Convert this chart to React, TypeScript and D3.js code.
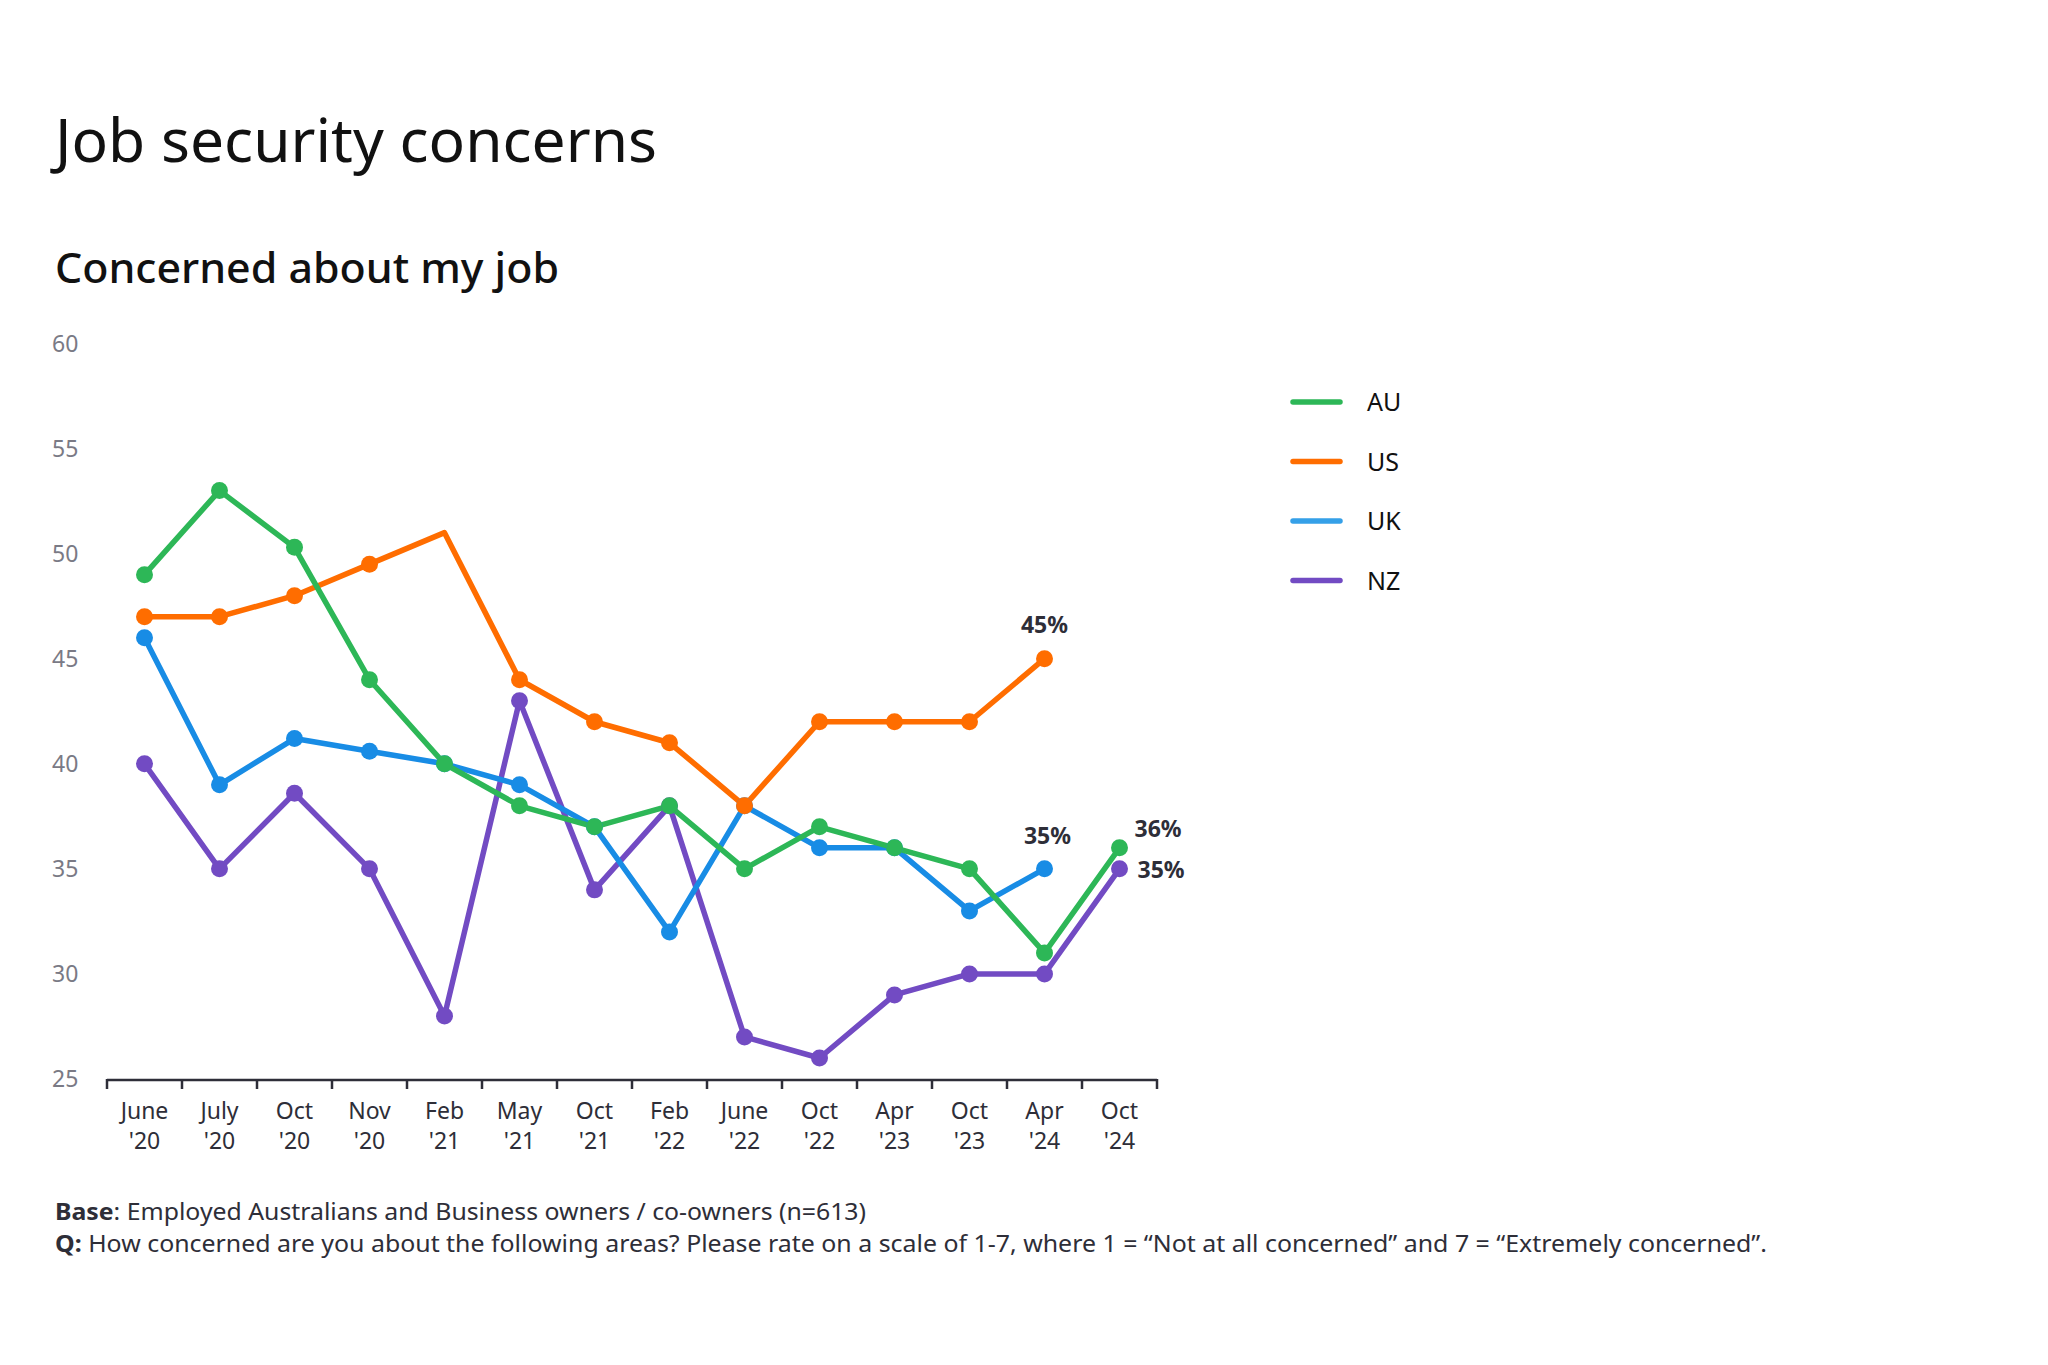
import React from "react"
import * as d3 from "d3"

const months = ["June", "July", "Oct", "Nov", "Feb", "May", "Oct", "Feb", "June", "Oct", "Apr", "Oct", "Apr", "Oct"]
const years = ["'20", "'20", "'20", "'20", "'21", "'21", "'21", "'22", "'22", "'22", "'23", "'23", "'24", "'24"]
const categories = months.map((m, i) => `${m} ${years[i]}`)

const yTicks = [25, 30, 35, 40, 45, 50, 55, 60]

const au = [49, 53, 50.3, 44, 40, 38, 37, 38, 35, 37, 36, 35, 31, 36]
const us = [47, 47, 48, 49.5, 51, 44, 42, 41, 38, 42, 42, 42, 45, null]
const uk = [46, 39, 41.2, 40.6, 40, 39, 37, 32, 38, 36, 36, 33, 35, null]
const nz = [40, 35, 38.6, 35, 28, 43, 34, 38, 27, 26, 29, 30, 30, 35]

// US Feb '21 has no marker in the original
const usNoMarker = [4]

const legend = [
  { name: "AU", color: "#2DB757" },
  { name: "US", color: "#FF6D00" },
  { name: "UK", color: "#35A0E8" },
  { name: "NZ", color: "#724BC3" },
]

// drawing order: lines first, then dots (NZ, UK, US, AU)
const series = [
  { name: "NZ", color: "#724BC3", values: nz, hide: [] as number[] },
  { name: "UK", color: "#188CE5", values: uk, hide: [] as number[] },
  { name: "US", color: "#FF6D00", values: us, hide: usNoMarker },
  { name: "AU", color: "#2DB757", values: au, hide: [] as number[] },
]

// end labels: [series, category index, text, dx, dy, anchor]
const endLabels: [string, number, string, number, number, string][] = [
  ["US", 12, "45%", 0, -26, "middle"],
  ["UK", 12, "35%", 3, -25, "middle"],
  ["AU", 13, "36%", 15, -11, "start"],
  ["NZ", 13, "35%", 18, 9, "start"],
]

const FONT = "'Noto Sans', sans-serif"

export default function App() {
  const x = d3.scaleBand<string>().domain(categories).range([107, 1157])
  const y = d3.scaleLinear().domain([25, 60]).range([1079, 343.5])
  const cx = (i: number) => (x(categories[i]) ?? 0) + x.bandwidth() / 2

  const line = d3
    .line<number | null>()
    .defined(d => d != null)
    .x((_, i) => cx(i))
    .y(d => y(d as number))

  const tickXs = [...categories.map(c => x(c) ?? 0), x.range()[1]]

  return (
    <svg
      width={2048}
      height={1365}
      style={{ position: "absolute", left: 0, top: 0, background: "#fff" }}
      fontFamily={FONT}
    >
      <rect width={2048} height={1365} fill="#fff" />
      <text x={55} y={162} fontSize={60} fontWeight={400} fill="#111" textLength={602} lengthAdjust="spacingAndGlyphs">
        Job security concerns
      </text>
      <text x={55} y={283} fontSize={42} fontWeight={500} fill="#111" textLength={504} lengthAdjust="spacingAndGlyphs">
        Concerned about my job
      </text>

      {yTicks.map(t => (
        <text key={t} x={52} y={y(t)} dy="0.36em" fontSize={23} fill="#7a7a85">
          {t}
        </text>
      ))}

      <line x1={tickXs[0]} x2={tickXs[tickXs.length - 1]} y1={1080} y2={1080} stroke="#2e2e38" strokeWidth={2.5} />
      {tickXs.map((tx, i) => (
        <line key={i} x1={tx} x2={tx} y1={1079} y2={1089} stroke="#2e2e38" strokeWidth={2.5} />
      ))}
      {categories.map((c, i) => (
        <text key={c} x={cx(i)} textAnchor="middle" fontSize={23} fill="#2e2e38">
          <tspan x={cx(i)} y={1119}>{months[i]}</tspan>
          <tspan x={cx(i)} y={1149}>{years[i]}</tspan>
        </text>
      ))}

      {series.map(s => (
        <path
          key={s.name}
          d={line(s.values) ?? ""}
          fill="none"
          stroke={s.color}
          strokeWidth={5.5}
          strokeLinejoin="round"
          strokeLinecap="round"
        />
      ))}
      {series.map(s =>
        s.values.map((v, i) =>
          v == null || s.hide.includes(i) ? null : (
            <circle key={s.name + i} cx={cx(i)} cy={y(v)} r={8.5} fill={s.color} />
          )
        )
      )}

      {endLabels.map(([name, i, label, dx, dy, anchor]) => {
        const s = series.find(d => d.name === name)!
        const v = s.values[i] as number
        return (
          <text
            key={name + label}
            x={cx(i) + dx}
            y={y(v) + dy}
            textAnchor={anchor}
            fontSize={23}
            fontWeight={700}
            fill="#2e2e38"
          >
            {label}
          </text>
        )
      })}

      {legend.map((d, i) => (
        <g key={d.name} transform={`translate(0, ${402 + i * 59.5})`}>
          <line x1={1293} x2={1340} y1={0} y2={0} stroke={d.color} strokeWidth={5.5} strokeLinecap="round" />
          <text x={1367} y={0} dy="0.36em" fontSize={25} fill="#111">
            {d.name}
          </text>
        </g>
      ))}

      <text x={55} y={1220} fontSize={23} fill="#2e2e38" textLength={811} lengthAdjust="spacingAndGlyphs">
        <tspan fontWeight={700}>Base</tspan>: Employed Australians and Business owners / co-owners (n=613)
      </text>
      <text x={55} y={1252} fontSize={23} fill="#2e2e38" textLength={1712} lengthAdjust="spacingAndGlyphs">
        <tspan fontWeight={700}>Q:</tspan> How concerned are you about the following areas? Please rate on a scale of 1-7, where 1 = “Not at all concerned” and 7 = “Extremely concerned”.
      </text>
    </svg>
  )
}
